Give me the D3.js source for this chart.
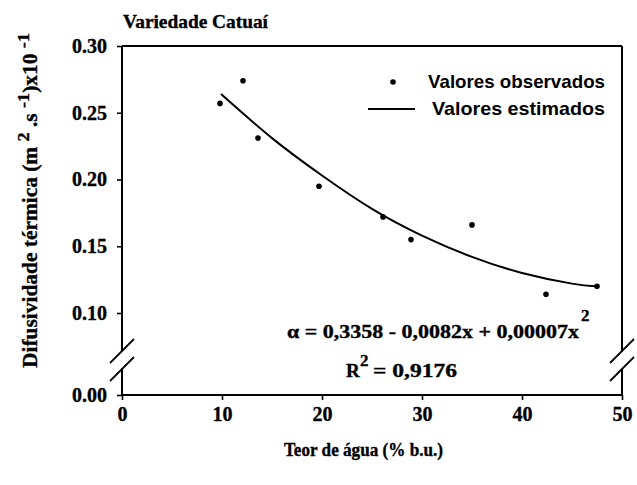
<!DOCTYPE html>
<html>
<head>
<meta charset="utf-8">
<script src="https://cdn.jsdelivr.net/npm/d3@7"></script>
<style>
  body { margin: 0; background: #fff; }
  svg { display: block; }
  .serif { font-family: "Liberation Serif", "Times New Roman", serif; font-weight: bold; fill: #000; stroke: #000; stroke-width: 0.35px; }
  .sans { font-family: "Liberation Sans", Arial, sans-serif; font-weight: bold; fill: #000; }
</style>
</head>
<body>
<div id="chart"></div>
<script>
// observed values (teor de água, difusividade)
const obsX = [9.8, 12.1, 13.6, 19.7, 26.1, 28.9, 35.0, 42.4, 47.5];
const obsY = [0.257, 0.274, 0.231, 0.195, 0.172, 0.155, 0.166, 0.114, 0.120];

// estimated curve
const estX = [9.9, 15, 20, 25, 30, 35, 40, 45, 47.3];
const estY = [0.264, 0.231, 0.203, 0.178, 0.158, 0.142, 0.130, 0.122, 0.120];

const xTicks = [0, 10, 20, 30, 40, 50];
const yTicks = [0, 0.10, 0.15, 0.20, 0.25, 0.30];

const W = 637, H = 485;
const margin = { top: 46, right: 15, bottom: 90, left: 122 };
const width = W - margin.left - margin.right;
const height = H - margin.top - margin.bottom;

const svg = d3.select("#chart").append("svg")
  .attr("width", W)
  .attr("height", H);

const g = svg.append("g").attr("transform", `translate(${margin.left},${margin.top})`);

const x = d3.scaleLinear().domain([0, 50]).range([0, width]);
// broken axis: 0.00 then jump to 0.10..0.30
const y = d3.scaleLinear().domain([0, 0.10, 0.30]).range([height, 267, 0]);

// axes
const xAxis = g.append("g")
  .attr("transform", `translate(0,${height})`)
  .call(d3.axisBottom(x).tickValues(xTicks).tickSize(5).tickPadding(7).tickFormat(d3.format("d")));
const yAxis = g.append("g")
  .call(d3.axisLeft(y).tickValues(yTicks).tickSize(5).tickPadding(10).tickFormat(d3.format(".2f")));

[xAxis, yAxis].forEach(a => {
  a.select(".domain").remove();
  a.selectAll("line").attr("stroke", "#000").attr("stroke-width", 1.6);
  a.selectAll("text").attr("class", "serif").style("font-size", "20px").attr("fill", "#000");
});

// frame lines with break
const brk1 = 305, brk2 = 323;
const frame = g.append("g").attr("stroke", "#000").attr("stroke-width", 2).attr("fill", "none");
frame.append("line").attr("x1", 0).attr("x2", width).attr("y1", 0).attr("y2", 0);
frame.append("line").attr("x1", 0).attr("x2", width).attr("y1", height).attr("y2", height);
[0, width].forEach(ax => {
  frame.append("line").attr("x1", ax).attr("x2", ax).attr("y1", 0).attr("y2", brk1);
  frame.append("line").attr("x1", ax).attr("x2", ax).attr("y1", brk2).attr("y2", height);
  [brk1, brk2].forEach(b => {
    frame.append("line")
      .attr("x1", ax - 12).attr("y1", b + 12)
      .attr("x2", ax + 12).attr("y2", b - 12)
      .attr("stroke-width", 1.8);
  });
});

// estimated curve
const line = d3.line()
  .x((d, i) => x(estX[i]))
  .y(d => y(d))
  .curve(d3.curveNatural);
g.append("path")
  .datum(estY)
  .attr("d", line)
  .attr("fill", "none")
  .attr("stroke", "#000")
  .attr("stroke-width", 2);

// observed points
g.append("g")
  .selectAll("circle")
  .data(obsY)
  .join("circle")
  .attr("cx", (d, i) => x(obsX[i]))
  .attr("cy", d => y(d))
  .attr("r", 2.8)
  .attr("fill", "#000");

// legend
svg.append("circle").attr("cx", 393).attr("cy", 82).attr("r", 2.8).attr("fill", "#000");
svg.append("text").attr("class", "sans").attr("x", 428).attr("y", 88)
  .style("font-size", "19px").attr("textLength", 177).attr("lengthAdjust", "spacingAndGlyphs")
  .text("Valores observados");
svg.append("line").attr("x1", 368).attr("x2", 415).attr("y1", 109).attr("y2", 109)
  .attr("stroke", "#000").attr("stroke-width", 2);
svg.append("text").attr("class", "sans").attr("x", 432).attr("y", 115)
  .style("font-size", "19px").attr("textLength", 173).attr("lengthAdjust", "spacingAndGlyphs")
  .text("Valores estimados");

// title
svg.append("text").attr("class", "serif").attr("x", 123).attr("y", 28)
  .style("font-size", "19px").attr("textLength", 145).attr("lengthAdjust", "spacingAndGlyphs")
  .text("Variedade Catuaí");

// equation
svg.append("text").attr("class", "serif").attr("x", 287).attr("y", 338)
  .style("font-size", "19px").attr("textLength", 292).attr("lengthAdjust", "spacingAndGlyphs")
  .text("α = 0,3358 - 0,0082x + 0,00007x");
svg.append("text").attr("class", "serif").attr("x", 581).attr("y", 321)
  .style("font-size", "17px").text("2");

svg.append("text").attr("class", "serif").attr("x", 346).attr("y", 377)
  .style("font-size", "19px").text("R");
svg.append("text").attr("class", "serif").attr("x", 360).attr("y", 366)
  .style("font-size", "17px").text("2");
svg.append("text").attr("class", "serif").attr("x", 373).attr("y", 377)
  .style("font-size", "19px").attr("textLength", 84).attr("lengthAdjust", "spacingAndGlyphs")
  .text("= 0,9176");

// x axis title
svg.append("text").attr("class", "serif").attr("x", 284).attr("y", 456)
  .style("font-size", "18px").attr("textLength", 159).attr("lengthAdjust", "spacingAndGlyphs")
  .text("Teor de água (% b.u.)");

// y axis title
const yt = svg.append("text").attr("class", "serif")
  .attr("transform", "translate(37,368) rotate(-90)")
  .style("font-size", "20px")
  .attr("textLength", 335).attr("lengthAdjust", "spacingAndGlyphs");
yt.append("tspan").text("Difusividade térmica (m ");
yt.append("tspan").attr("dy", -8).style("font-size", "17px").text("2");
yt.append("tspan").attr("dy", 8).text(" .s ");
yt.append("tspan").attr("dy", -8).style("font-size", "17px").text("-1");
yt.append("tspan").attr("dy", 8).text(")x10 ");
yt.append("tspan").attr("dy", -8).style("font-size", "17px").text("-1");
</script>
</body>
</html>
